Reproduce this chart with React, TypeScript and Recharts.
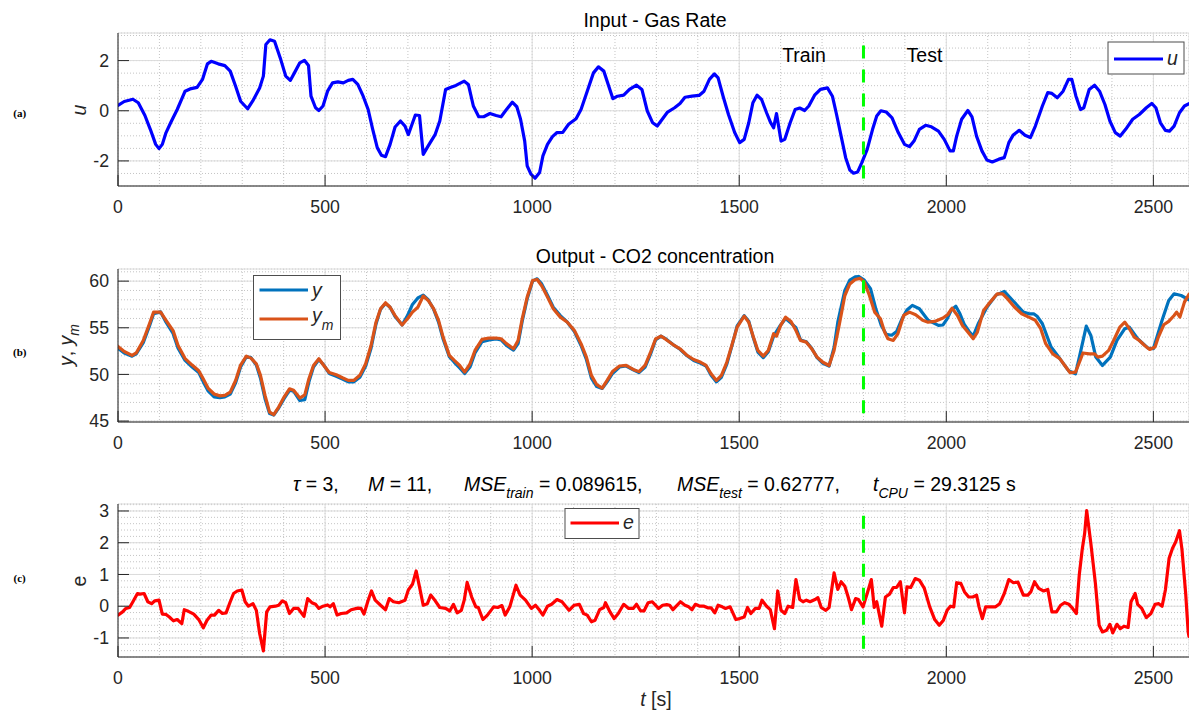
import React from 'react';
import { LineChart, Line, XAxis, YAxis, CartesianGrid, ReferenceLine } from 'recharts';

// ---------- data ----------
const X_MAX = 2586;
const SPLIT_T = 1800;
const X_TICKS = [0, 500, 1000, 1500, 2000, 2500];
const X_MINOR = [0, 100, 200, 300, 400, 500, 600, 700, 800, 900, 1000, 1100, 1200, 1300, 1400, 1500, 1600, 1700, 1800, 1900, 2000, 2100, 2200, 2300, 2400, 2500];

const U_TICKS = [-2, 0, 2];
const U_MINOR = [-3, -2.5, -2, -1.5, -1, -0.5, 0, 0.5, 1, 1.5, 2, 2.5, 3];
const Y_TICKS = [45, 50, 55, 60];
const Y_MINOR = [45, 46, 47, 48, 49, 50, 51, 52, 53, 54, 55, 56, 57, 58, 59, 60, 61];
const E_TICKS = [-1, 0, 1, 2, 3];
const E_MINOR = [-1.6, -1.4, -1.2, -1, -0.8, -0.6, -0.4, -0.2, 0, 0.2, 0.4, 0.6, 0.8, 1, 1.2, 1.4, 1.6, 1.8, 2, 2.2, 2.4, 2.6, 2.8, 3, 3.2];

// input u(t)  [t, u]
const U_SERIES: [number, number][] = [
  [0, 0.21], [15, 0.37], [36, 0.46], [49, 0.32], [65, -0.19], [78, -0.74], [91, -1.34], [99, -1.51], [107, -1.34], [116, -0.87],
  [128, -0.45], [143, 0.05], [162, 0.78], [174, 0.87], [191, 0.93], [204, 1.25], [216, 1.87], [225, 1.97], [242, 1.87], [258, 1.8],
  [271, 1.58], [284, 0.98], [296, 0.38], [313, 0.08], [325, 0.38], [342, 0.91], [351, 1.38], [357, 2.64], [367, 2.83], [378, 2.77],
  [393, 2.04], [405, 1.38], [416, 1.21], [426, 1.51], [439, 1.91], [450, 2.01], [460, 1.8], [466, 0.58], [477, 0.12], [485, 0.01],
  [495, 0.19], [506, 0.78], [518, 1.11], [531, 1.15], [544, 1.11], [556, 1.21], [567, 1.25], [579, 1.05], [592, 0.58], [604, 0.05],
  [615, -0.74], [626, -1.47], [636, -1.77], [646, -1.83], [657, -1.34], [669, -0.65], [682, -0.41], [693, -0.61], [701, -0.95], [710, -0.54],
  [718, -0.17], [728, -0.19], [737, -1.74], [749, -1.4], [766, -0.94], [777, -0.41], [791, 0.85], [804, 0.94], [816, 1.01], [836, 1.18],
  [846, 1.05], [858, 0.19], [871, -0.24], [883, -0.24], [898, -0.11], [913, -0.19], [925, -0.24], [938, 0.05], [952, 0.34], [963, 0.16],
  [972, -0.34], [982, -1.21], [988, -2.2], [997, -2.53], [1007, -2.69], [1018, -2.46], [1026, -1.8], [1037, -1.34], [1049, -1.03], [1060, -0.87],
  [1074, -0.86], [1088, -0.54], [1106, -0.32], [1118, 0.05], [1133, 0.78], [1148, 1.51], [1160, 1.75], [1173, 1.58], [1185, 0.98], [1195, 0.48],
  [1206, 0.58], [1221, 0.62], [1235, 0.85], [1252, 1.02], [1265, 0.85], [1278, -0.01], [1291, -0.48], [1302, -0.61], [1315, -0.32], [1327, -0.05],
  [1344, 0.12], [1357, 0.29], [1369, 0.54], [1386, 0.58], [1403, 0.61], [1415, 0.78], [1428, 1.25], [1440, 1.47], [1449, 1.31], [1461, 0.58],
  [1474, -0.15], [1489, -0.87], [1501, -1.27], [1512, -1.14], [1523, -0.48], [1533, 0.32], [1543, 0.62], [1554, 0.45], [1566, -0.08], [1576, -0.48],
  [1583, -0.68], [1590, -0.11], [1595, -0.61], [1601, -1.21], [1610, -1.14], [1623, -0.48], [1635, 0.05], [1646, 0.11], [1658, 0.01], [1668, 0.19],
  [1682, 0.62], [1696, 0.85], [1713, 0.91], [1725, 0.58], [1735, -0.15], [1746, -1.01], [1757, -1.87], [1767, -2.36], [1776, -2.49], [1786, -2.44],
  [1796, -2.07], [1809, -1.54], [1822, -0.74], [1832, -0.21], [1842, 0.0], [1855, -0.05], [1869, -0.28], [1884, -0.87], [1899, -1.34], [1911, -1.43],
  [1922, -1.21], [1935, -0.74], [1950, -0.58], [1964, -0.64], [1981, -0.81], [1995, -1.14], [2009, -1.6], [2017, -1.6], [2025, -1.01], [2037, -0.34],
  [2052, 0.01], [2062, -0.24], [2073, -1.01], [2086, -1.6], [2098, -1.96], [2111, -2.04], [2127, -1.93], [2140, -1.87], [2151, -1.27], [2161, -0.98],
  [2176, -0.78], [2190, -0.98], [2203, -1.07], [2215, -0.61], [2232, 0.19], [2245, 0.72], [2255, 0.69], [2268, 0.52], [2282, 0.78], [2295, 1.25],
  [2303, 1.25], [2313, 0.58], [2324, 0.05], [2332, 0.12], [2345, 0.85], [2358, 1.02], [2370, 0.78], [2383, 0.25], [2395, -0.41], [2408, -0.87],
  [2420, -1.01], [2433, -0.74], [2450, -0.34], [2466, -0.15], [2483, 0.12], [2496, 0.29], [2506, 0.12], [2517, -0.48], [2529, -0.78], [2539, -0.81],
  [2550, -0.61], [2563, -0.08], [2575, 0.19], [2586, 0.28],
];

// measured output y(t)
const Y_SERIES: [number, number][] = [
  [0, 52.8], [15, 52.3], [34, 51.95], [44, 52.2], [61, 53.4], [76, 55.2], [86, 56.5], [103, 56.7], [116, 55.6], [133, 54.4],
  [145, 52.8], [162, 51.5], [179, 50.8], [195, 50.2], [206, 49.2], [218, 48.2], [232, 47.6], [246, 47.5], [258, 47.6], [271, 47.9],
  [284, 49.1], [296, 50.8], [310, 51.9], [321, 51.8], [334, 51.0], [344, 49.6], [355, 47.4], [366, 45.8], [376, 45.65], [388, 46.4],
  [401, 47.4], [414, 48.3], [424, 48.2], [439, 47.2], [451, 47.3], [461, 49.2], [472, 50.8], [485, 51.6], [497, 51.0], [510, 50.1],
  [527, 49.8], [542, 49.5], [556, 49.2], [569, 49.2], [584, 49.7], [598, 50.9], [611, 52.8], [623, 55.4], [634, 57.0], [646, 57.6],
  [657, 57.2], [669, 56.2], [686, 55.3], [699, 56.3], [711, 57.5], [724, 58.2], [737, 58.5], [749, 58.0], [762, 57.0], [774, 55.6],
  [785, 53.8], [800, 51.9], [812, 51.3], [825, 50.7], [837, 50.1], [850, 50.8], [862, 52.3], [879, 53.5], [896, 53.7], [913, 53.8],
  [925, 53.7], [938, 53.1], [955, 52.6], [966, 53.3], [976, 55.7], [988, 58.1], [1001, 60.0], [1012, 60.25], [1023, 59.7], [1037, 58.5],
  [1051, 57.2], [1068, 56.3], [1085, 55.6], [1102, 54.6], [1118, 53.1], [1131, 51.6], [1143, 49.6], [1156, 48.7], [1169, 48.5], [1181, 49.2],
  [1194, 50.1], [1211, 50.8], [1227, 50.9], [1244, 50.5], [1258, 50.2], [1273, 50.8], [1286, 52.2], [1298, 53.7], [1311, 54.1], [1323, 53.8],
  [1340, 53.2], [1357, 52.7], [1374, 52.0], [1390, 51.5], [1407, 51.2], [1420, 50.9], [1432, 49.9], [1445, 49.2], [1457, 49.7], [1470, 51.1],
  [1482, 53.0], [1495, 55.2], [1512, 56.3], [1523, 55.7], [1533, 54.1], [1545, 52.4], [1558, 51.8], [1570, 52.4], [1583, 54.1], [1600, 55.3],
  [1612, 56.0], [1625, 55.5], [1637, 55.0], [1648, 53.7], [1662, 53.5], [1675, 52.8], [1688, 51.8], [1702, 51.2], [1717, 50.9], [1729, 52.9],
  [1738, 55.6], [1755, 59.0], [1767, 60.1], [1780, 60.45], [1788, 60.5], [1802, 60.1], [1817, 59.2], [1830, 57.0], [1843, 55.25], [1855, 54.3],
  [1868, 54.2], [1880, 54.6], [1893, 55.96], [1905, 56.9], [1918, 57.4], [1935, 57.04], [1956, 55.8], [1970, 55.5], [1981, 55.25], [1992, 55.3],
  [2002, 55.96], [2012, 56.9], [2023, 57.3], [2033, 56.5], [2043, 55.4], [2055, 54.6], [2065, 54.1], [2077, 55.43], [2098, 57.2], [2120, 58.5],
  [2140, 58.9], [2161, 57.9], [2186, 56.68], [2200, 56.5], [2211, 56.5], [2220, 56.2], [2232, 55.43], [2253, 52.93], [2274, 51.7], [2295, 50.4],
  [2312, 50.07], [2324, 52.4], [2338, 55.18], [2349, 54.18], [2361, 51.86], [2377, 50.96], [2396, 51.86], [2412, 53.64], [2431, 54.9], [2442, 55.07],
  [2462, 53.82], [2487, 52.82], [2500, 52.75], [2521, 55.8], [2537, 57.93], [2550, 58.64], [2567, 58.46], [2586, 58.0],
];

// model output y_m(t)
const YM_SERIES: [number, number][] = [
  [0, 53.0], [15, 52.46], [34, 52.04], [44, 52.3], [61, 53.64], [76, 55.43], [86, 56.68], [103, 56.68], [116, 55.8], [133, 54.7],
  [145, 53.1], [162, 51.7], [179, 51.0], [195, 50.4], [206, 49.5], [218, 48.5], [232, 47.9], [246, 47.7], [258, 47.75], [271, 48.1],
  [284, 49.35], [296, 51.0], [310, 51.96], [321, 51.75], [334, 51.14], [344, 49.9], [355, 47.75], [366, 45.96], [376, 45.68], [388, 46.5],
  [401, 47.57], [414, 48.46], [424, 48.3], [439, 47.46], [451, 47.8], [461, 49.54], [472, 50.96], [485, 51.68], [497, 50.96], [510, 50.2],
  [527, 49.96], [542, 49.64], [556, 49.36], [569, 49.36], [584, 49.9], [598, 51.14], [611, 53.1], [623, 55.6], [634, 57.04], [646, 57.68],
  [657, 57.2], [669, 56.3], [686, 55.3], [699, 55.96], [711, 56.68], [724, 57.2], [737, 58.4], [749, 57.93], [762, 57.04], [774, 55.8],
  [785, 54.0], [800, 52.04], [812, 51.5], [825, 50.96], [837, 50.25], [850, 51.14], [862, 52.57], [879, 53.75], [896, 53.9], [913, 53.9],
  [925, 53.82], [938, 53.3], [955, 52.75], [966, 53.64], [976, 55.96], [988, 58.3], [1001, 60.07], [1012, 60.18], [1023, 59.5], [1037, 58.3],
  [1051, 57.04], [1068, 56.14], [1085, 55.6], [1102, 54.7], [1118, 53.3], [1131, 51.86], [1143, 49.9], [1156, 48.9], [1169, 48.54], [1181, 49.36],
  [1194, 50.3], [1211, 50.9], [1227, 50.96], [1244, 50.54], [1258, 50.3], [1273, 51.0], [1286, 52.4], [1298, 53.8], [1311, 54.1], [1323, 53.75],
  [1340, 53.2], [1357, 52.75], [1374, 52.04], [1390, 51.6], [1407, 51.3], [1420, 50.96], [1432, 50.07], [1445, 49.36], [1457, 49.9], [1470, 51.3],
  [1482, 53.1], [1495, 55.07], [1512, 56.25], [1523, 55.6], [1533, 54.18], [1545, 52.57], [1558, 51.96], [1570, 52.57], [1583, 54.36], [1590, 54.1],
  [1600, 55.25], [1612, 56.14], [1625, 55.68], [1637, 54.7], [1648, 53.64], [1662, 53.46], [1675, 52.75], [1688, 51.86], [1702, 51.3], [1717, 50.96],
  [1729, 52.57], [1742, 55.43], [1755, 58.46], [1767, 59.7], [1780, 60.18], [1792, 60.3], [1802, 59.9], [1813, 58.64], [1827, 56.68], [1841, 55.96],
  [1851, 54.54], [1859, 53.82], [1872, 53.64], [1883, 54.36], [1897, 56.32], [1911, 56.68], [1926, 56.4], [1943, 55.8], [1956, 55.6], [1972, 55.68],
  [1992, 56.04], [2003, 56.4], [2014, 57.1], [2027, 56.32], [2039, 55.25], [2052, 54.54], [2065, 53.82], [2075, 54.54], [2090, 56.86], [2106, 57.75],
  [2123, 58.64], [2136, 58.64], [2148, 58.1], [2165, 57.2], [2182, 56.5], [2199, 56.14], [2215, 55.8], [2228, 54.9], [2240, 53.3], [2257, 52.2],
  [2274, 51.7], [2286, 50.96], [2299, 50.18], [2312, 50.25], [2324, 51.6], [2330, 52.3], [2345, 52.2], [2358, 52.2], [2366, 51.86], [2377, 51.96],
  [2392, 52.57], [2406, 53.82], [2419, 55.07], [2431, 55.6], [2442, 54.9], [2454, 54.0], [2466, 53.64], [2479, 53.1], [2491, 52.68], [2504, 52.93],
  [2512, 54.0], [2525, 55.32], [2537, 55.68], [2550, 56.32], [2556, 56.68], [2564, 56.14], [2575, 57.75], [2586, 58.6],
];

// error e(t)
const E_SERIES: [number, number][] = [
  [0, -0.28], [11, -0.18], [19, -0.07], [28, -0.04], [36, 0.14], [47, 0.4], [53, 0.38], [63, 0.4], [72, 0.14], [81, 0.08],
  [89, 0.17], [99, 0.19], [107, -0.25], [116, -0.26], [124, -0.34], [134, -0.46], [143, -0.42], [154, -0.55], [160, -0.11], [170, -0.16],
  [183, -0.25], [195, -0.42], [206, -0.68], [215, -0.44], [225, -0.28], [233, -0.28], [243, -0.13], [252, -0.23], [261, -0.21], [271, 0.14],
  [279, 0.4], [288, 0.48], [299, 0.51], [307, 0.14], [315, 0.0], [326, 0.08], [334, -0.13], [342, -0.86], [351, -1.41], [359, -0.18],
  [367, -0.02], [380, 0.0], [388, 0.03], [397, 0.17], [405, 0.11], [414, -0.23], [424, -0.07], [435, -0.07], [449, -0.32], [458, 0.24],
  [468, 0.11], [477, 0.06], [485, -0.07], [495, 0.0], [506, 0.04], [512, -0.02], [520, 0.08], [529, -0.28], [539, -0.23], [552, -0.21],
  [563, -0.11], [579, -0.06], [587, -0.07], [594, -0.25], [604, 0.19], [612, 0.48], [621, 0.19], [634, 0.03], [646, -0.11], [655, 0.24],
  [665, 0.14], [678, 0.11], [693, 0.19], [701, 0.51], [711, 0.69], [720, 1.11], [728, 0.61], [737, 0.03], [747, 0.08], [755, 0.35],
  [766, 0.17], [777, -0.04], [791, -0.07], [801, -0.15], [810, 0.06], [819, -0.21], [829, -0.13], [836, 0.19], [843, 0.75], [854, 0.29],
  [864, -0.02], [870, -0.04], [881, -0.42], [892, -0.28], [907, -0.02], [917, -0.04], [927, 0.02], [935, -0.28], [946, -0.02], [961, 0.66],
  [971, 0.35], [984, 0.19], [998, -0.07], [1008, 0.03], [1018, -0.13], [1026, -0.28], [1037, 0.0], [1047, 0.06], [1060, 0.21], [1072, 0.14],
  [1089, -0.13], [1101, 0.03], [1114, 0.06], [1124, -0.23], [1133, -0.28], [1143, -0.49], [1152, -0.44], [1163, -0.11], [1173, -0.04], [1177, 0.11],
  [1188, -0.18], [1198, -0.39], [1208, -0.23], [1221, 0.06], [1233, -0.07], [1244, -0.07], [1252, 0.06], [1262, -0.15], [1270, -0.15], [1280, 0.11],
  [1290, 0.14], [1305, -0.07], [1315, 0.03], [1325, 0.05], [1332, 0.03], [1340, -0.11], [1348, 0.0], [1358, 0.14], [1369, 0.03], [1378, -0.02],
  [1386, -0.11], [1394, 0.06], [1405, 0.0], [1415, 0.0], [1424, -0.05], [1432, -0.05], [1441, -0.21], [1449, 0.03], [1459, -0.02], [1467, -0.07],
  [1478, -0.02], [1492, -0.42], [1501, -0.39], [1512, -0.34], [1520, -0.04], [1528, -0.23], [1539, -0.07], [1548, -0.07], [1555, 0.19], [1566, 0.0],
  [1575, -0.11], [1585, -0.71], [1593, 0.48], [1601, -0.13], [1610, -0.23], [1618, 0.0], [1629, -0.04], [1637, 0.84], [1646, 0.21], [1654, 0.14],
  [1662, 0.19], [1671, 0.14], [1683, 0.21], [1690, 0.27], [1698, -0.04], [1709, -0.13], [1717, -0.04], [1729, 1.05], [1738, 0.53], [1746, 0.77],
  [1755, 0.63], [1763, 0.29], [1771, -0.11], [1781, 0.24], [1788, 0.21], [1799, -0.02], [1809, 0.4], [1819, 0.84], [1826, -0.04], [1832, 0.14],
  [1844, -0.63], [1853, 0.29], [1863, 0.38], [1872, 0.59], [1880, 0.59], [1889, 0.77], [1899, -0.21], [1905, 0.61], [1914, 0.59], [1925, 0.87],
  [1935, 0.82], [1947, 0.56], [1960, -0.02], [1972, -0.42], [1983, -0.6], [1993, -0.44], [2002, -0.13], [2010, 0.0], [2018, -0.02], [2025, 0.74],
  [2035, 0.72], [2044, 0.45], [2054, 0.29], [2064, 0.29], [2073, 0.35], [2079, -0.02], [2087, -0.39], [2095, -0.02], [2106, -0.02], [2119, -0.02],
  [2129, 0.08], [2140, 0.4], [2151, 0.84], [2162, 0.74], [2173, 0.76], [2186, 0.35], [2197, 0.35], [2204, 0.45], [2213, 0.77], [2223, 0.56],
  [2235, 0.48], [2245, 0.53], [2255, -0.18], [2266, -0.18], [2276, 0.03], [2286, 0.11], [2296, 0.06], [2305, -0.07], [2314, -0.23], [2321, 0.98],
  [2328, 1.77], [2334, 2.29], [2339, 3.01], [2349, 1.98], [2360, 0.72], [2369, -0.6], [2377, -0.81], [2387, -0.76], [2395, -0.57], [2402, -0.84],
  [2412, -0.57], [2420, -0.71], [2429, -0.63], [2439, -0.67], [2446, 0.14], [2456, 0.4], [2462, 0.06], [2472, -0.07], [2483, -0.36], [2494, -0.23],
  [2504, 0.06], [2513, 0.08], [2521, 0.0], [2529, 0.51], [2538, 1.51], [2546, 1.82], [2554, 2.03], [2563, 2.38], [2569, 1.79], [2578, 0.4],
  [2584, -0.81], [2586, -0.95],
];

// ---------- styles ----------
const W = 1189;
const H = 216;
const FONT = '"Liberation Sans", Arial, Helvetica, sans-serif';
const SERIF = '"Liberation Serif", "Times New Roman", serif';
const AXIS_COLOR = '#262626';
const TEXT_COLOR = '#262626';
const MAJOR_GRID = '#dcdcdc';
const MINOR_GRID = '#c4c4c4';
const U_COLOR = '#0000ff';
const Y_COLOR = '#0072bd';
const YM_COLOR = '#d95319';
const E_COLOR = '#ff0000';
const SPLIT_COLOR = '#00ff00';
const TICK_FS = 17.7;
const TITLE_FS = 19.5;
const SUB_FS = 14;
const TICK_LEN = 11;
const BOTTOM_GAP = 14;
const LEFT_GAP = 9;
const LINE_W = 3.2;

type Row = { t: number; v: number };
const toRows = (pts: [number, number][]): Row[] => pts.map(([t, v]) => ({ t, v }));

const bottomTick = (p: any) => (
  <g>
    <line x1={p.x} x2={p.x} y1={p.y - BOTTOM_GAP} y2={p.y - BOTTOM_GAP - TICK_LEN} stroke={AXIS_COLOR} strokeWidth={1} />
    <text x={p.x} y={p.y} dy="0.71em" textAnchor="middle" fill={TEXT_COLOR} fontSize={TICK_FS} fontFamily={FONT}>
      {String(p.payload.value)}
    </text>
  </g>
);
const topTick = (p: any) => (
  <line x1={p.x} x2={p.x} y1={p.y} y2={p.y + TICK_LEN} stroke={AXIS_COLOR} strokeWidth={1} />
);
const leftTick = (p: any) => (
  <g>
    <line x1={p.x + LEFT_GAP} x2={p.x + LEFT_GAP + TICK_LEN} y1={p.y} y2={p.y} stroke={AXIS_COLOR} strokeWidth={1} />
    <text x={p.x} y={p.y} dy="0.355em" textAnchor="end" fill={TEXT_COLOR} fontSize={TICK_FS} fontFamily={FONT}>
      {String(p.payload.value)}
    </text>
  </g>
);
const rightTick = (p: any) => (
  <line x1={p.x} x2={p.x - TICK_LEN} y1={p.y} y2={p.y} stroke={AXIS_COLOR} strokeWidth={1} />
);

type Series = { key: string; rows: Row[]; color: string };

function Panel(props: {
  top: number;
  yDomain: [number, number];
  yTicks: number[];
  yMinor: number[];
  split: [number, number];
  series: Series[];
}) {
  const { top, yDomain, yTicks, yMinor, split, series } = props;
  return (
    <div style={{ position: 'absolute', left: 0, top, width: W, height: H }}>
      <LineChart width={W} height={H} margin={{ top: 33, right: 0, bottom: 0, left: 0 }}>
        <XAxis xAxisId="minor" type="number" dataKey="t" domain={[0, X_MAX]} ticks={X_MINOR} interval={0} hide allowDataOverflow />
        <YAxis yAxisId="minor" type="number" domain={yDomain} ticks={yMinor} interval={0} hide allowDataOverflow />
        <CartesianGrid xAxisId="minor" yAxisId="minor" stroke={MINOR_GRID} strokeDasharray="1 2" strokeWidth={1} />
        <CartesianGrid stroke={MAJOR_GRID} strokeWidth={1} />
        <XAxis
          type="number" dataKey="t" domain={[0, X_MAX]} ticks={X_TICKS} interval={0} allowDataOverflow
          height={30} tickSize={0} tickMargin={BOTTOM_GAP} tickLine={false}
          axisLine={{ stroke: AXIS_COLOR, strokeWidth: 1 }} tick={bottomTick}
        />
        <XAxis
          xAxisId="top" orientation="top" type="number" dataKey="t" domain={[0, X_MAX]} ticks={X_TICKS} interval={0} allowDataOverflow
          height={0} tickSize={0} tickMargin={0} tickLine={false}
          axisLine={{ stroke: AXIS_COLOR, strokeWidth: 1 }} tick={topTick}
        />
        <YAxis
          type="number" domain={yDomain} ticks={yTicks} interval={0} allowDataOverflow
          width={118} tickSize={0} tickMargin={LEFT_GAP} tickLine={false}
          axisLine={{ stroke: AXIS_COLOR, strokeWidth: 1 }} tick={leftTick}
        />
        <YAxis
          yAxisId="right" orientation="right" type="number" domain={yDomain} ticks={yTicks} interval={0} allowDataOverflow
          width={0} tickSize={0} tickMargin={0} tickLine={false}
          axisLine={{ stroke: AXIS_COLOR, strokeWidth: 1 }} tick={rightTick}
        />
        {series.map((s) => (
          <Line
            key={s.key}
            data={s.rows}
            dataKey="v"
            type="linear"
            stroke={s.color}
            strokeWidth={LINE_W}
            strokeLinejoin="round"
            strokeLinecap="round"
            dot={false}
            activeDot={false}
            isAnimationActive={false}
          />
        ))}
        <ReferenceLine
          segment={[{ x: SPLIT_T, y: split[1] }, { x: SPLIT_T, y: split[0] }]}
          stroke={SPLIT_COLOR}
          strokeWidth={3}
          strokeDasharray="13 11"
          ifOverflow="visible"
        />
      </LineChart>
    </div>
  );
}

const U_ROWS = toRows(U_SERIES);
const Y_ROWS = toRows(Y_SERIES);
const YM_ROWS = toRows(YM_SERIES);
const E_ROWS = toRows(E_SERIES);

export default function App() {
  const it = { fontStyle: 'italic' as const };
  return (
    <div style={{ position: 'absolute', left: 0, top: 0, width: W, height: 715, background: '#fff', overflow: 'hidden' }}>
      <Panel top={0} yDomain={[-3, 3.1]} yTicks={U_TICKS} yMinor={U_MINOR} split={[-3, 2.6]}
        series={[{ key: 'u', rows: U_ROWS, color: U_COLOR }]} />
      <Panel top={236} yDomain={[44.9, 61.3]} yTicks={Y_TICKS} yMinor={Y_MINOR} split={[44.9, 60.1]}
        series={[{ key: 'y', rows: Y_ROWS, color: Y_COLOR }, { key: 'ym', rows: YM_ROWS, color: YM_COLOR }]} />
      <Panel top={471} yDomain={[-1.6, 3.22]} yTicks={E_TICKS} yMinor={E_MINOR} split={[-1.6, 2.85]}
        series={[{ key: 'e', rows: E_ROWS, color: E_COLOR }]} />

      <svg width={W} height={715} style={{ position: 'absolute', left: 0, top: 0, pointerEvents: 'none', whiteSpace: 'pre' }}
        fontFamily={FONT} fill="#000">
        {/* titles */}
        <text x={655} y={27} textAnchor="middle" fontSize={TITLE_FS}>Input - Gas Rate</text>
        <text x={655} y={262.5} textAnchor="middle" fontSize={TITLE_FS}>Output - CO2 concentration</text>
        <g fontSize={TITLE_FS}>
          <text x={293} y={491}><tspan style={it}>τ</tspan> = 3,</text>
          <text x={368} y={491}><tspan style={it}>M</tspan> = 11,</text>
          <text x={464} y={491}>
            <tspan style={it}>MSE</tspan><tspan style={it} fontSize={SUB_FS} dy={6.5}>train</tspan><tspan dy={-6.5}> = 0.089615,</tspan>
          </text>
          <text x={677} y={491}>
            <tspan style={it}>MSE</tspan><tspan style={it} fontSize={SUB_FS} dy={6.5}>test</tspan><tspan dy={-6.5}> = 0.62777,</tspan>
          </text>
          <text x={873} y={491}>
            <tspan style={it}>t</tspan><tspan style={it} fontSize={SUB_FS} dy={6.5}>CPU</tspan><tspan dy={-6.5}> = 29.3125 s</tspan>
          </text>
        </g>

        {/* train / test annotations */}
        <text x={804} y={61.5} textAnchor="middle" fontSize={TITLE_FS}>Train</text>
        <text x={924.5} y={61.5} textAnchor="middle" fontSize={TITLE_FS}>Test</text>

        {/* axis labels */}
        <text transform="translate(86,110) rotate(-90)" textAnchor="middle" fontSize={TITLE_FS} fill={TEXT_COLOR} style={it}>u</text>
        <text transform="translate(73,345) rotate(-90)" textAnchor="middle" fontSize={TITLE_FS} fill={TEXT_COLOR}>
          <tspan style={it}>y</tspan>, <tspan style={it}>y</tspan><tspan style={it} fontSize={SUB_FS} dy={5.5}>m</tspan>
        </text>
        <text transform="translate(86,581) rotate(-90)" textAnchor="middle" fontSize={TITLE_FS} fill={TEXT_COLOR}>e</text>
        <text x={656} y={706} textAnchor="middle" fontSize={TITLE_FS} fill={TEXT_COLOR}>
          <tspan style={it}>t</tspan> [s]
        </text>

        {/* panel letters */}
        <g fontFamily={SERIF} fontWeight="bold" fontSize={11} textAnchor="middle">
          <text x={19.7} y={116.5}>(a)</text>
          <text x={19.7} y={356}>(b)</text>
          <text x={19.7} y={581.5}>(c)</text>
        </g>

        {/* legends */}
        <g>
          <rect x={1108} y={42} width={76} height={32} fill="#fff" stroke="#4d4d4d" strokeWidth={1} />
          <line x1={1114} x2={1163} y1={59} y2={59} stroke={U_COLOR} strokeWidth={LINE_W} />
          <text x={1167} y={65} fontSize={TITLE_FS} fill={TEXT_COLOR} style={it}>u</text>
        </g>
        <g>
          <rect x={253.5} y={275.5} width={87} height={64} fill="#fff" stroke="#4d4d4d" strokeWidth={1} />
          <line x1={259.5} x2={308} y1={290} y2={290} stroke={Y_COLOR} strokeWidth={LINE_W} />
          <text x={312} y={296.5} fontSize={TITLE_FS} fill={TEXT_COLOR} style={it}>y</text>
          <line x1={259.5} x2={308} y1={319} y2={319} stroke={YM_COLOR} strokeWidth={LINE_W} />
          <text x={312} y={322} fontSize={TITLE_FS} fill={TEXT_COLOR} style={it}>
            y<tspan fontSize={SUB_FS} dy={8}>m</tspan>
          </text>
        </g>
        <g>
          <rect x={565} y={508.5} width={74} height={30} fill="#fff" stroke="#4d4d4d" strokeWidth={1} />
          <line x1={570.5} x2={619} y1={523} y2={523} stroke={E_COLOR} strokeWidth={LINE_W} />
          <text x={623} y={529} fontSize={TITLE_FS} fill={TEXT_COLOR} style={it}>e</text>
        </g>
      </svg>
    </div>
  );
}
